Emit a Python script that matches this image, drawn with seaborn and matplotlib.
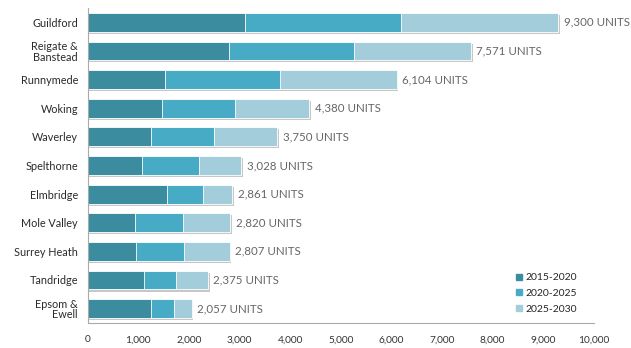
import numpy as np
import pandas as pd
import matplotlib
matplotlib.use("Agg")
import matplotlib.pyplot as plt
import matplotlib.patheffects as pe
from matplotlib.lines import Line2D
import seaborn as sns

districts = ["Guildford", "Reigate &\nBanstead", "Runnymede", "Woking", "Waverley",
             "Spelthorne", "Elmbridge", "Mole Valley", "Surrey Heath", "Tandridge",
             "Epsom &\nEwell"]
p2015_2020 = [3100, 2790, 1520, 1460, 1250, 1065, 1560, 930, 950, 1110, 1260]
p2020_2025 = [3100, 2470, 2280, 1450, 1240, 1125, 720, 950, 960, 630, 440]
p2025_2030 = [3100, 2311, 2304, 1470, 1260, 838, 581, 940, 897, 635, 357]
totals = [9300, 7571, 6104, 4380, 3750, 3028, 2861, 2820, 2807, 2375, 2057]
periods = ["2015-2020", "2020-2025", "2025-2030"]
colors = ["#3a8c9e", "#48abc6", "#a3cddb"]

df = pd.DataFrame({"district": districts, "a": p2015_2020, "b": p2020_2025, "c": p2025_2030})
df["cum1"] = df["a"]
df["cum2"] = df["a"] + df["b"]
df["cum3"] = df["cum2"] + df["c"]

sns.set_style("white")
plt.rcParams["font.family"] = ["Lato", "DejaVu Sans"]

fig = plt.figure(figsize=(6.31, 3.48), dpi=100)
ax = fig.add_axes([0.139, 0.072, 0.802, 0.905])

# longest cumulative first so the shorter segments sit on top
for col, c in zip(["cum3", "cum2", "cum1"], colors[::-1]):
    sns.barplot(data=df, x=col, y="district", orient="h", color=c, width=0.66,
                saturation=1, ax=ax, edgecolor="white", linewidth=0.6)

n = len(districts)
for i, patch in enumerate(ax.patches):
    if i < n:
        patch.set_path_effects([pe.SimplePatchShadow(offset=(1.2, -1.5), shadow_rgbFace="#999999", alpha=0.55),
                                pe.Normal()])

for i, t in enumerate(totals):
    ax.text(t + 110, i, f"{t:,} UNITS", va="center", ha="left", fontsize=8.3, color="#666666")

ax.set_xlim(0, 10000)
ax.set_ylim(n - 0.5, -0.5)
ax.set_xticks(np.arange(0, 10001, 1000))
ax.set_xticklabels([f"{v:,}" for v in range(0, 10001, 1000)], fontsize=7.3, color="#333333")
ax.tick_params(axis="x", direction="in", length=4, color="#aaaaaa", pad=9)
ax.set_yticks(range(n))
ax.set_yticklabels(districts, fontsize=7.8, color="#2a2a2a", linespacing=0.95)
ax.tick_params(axis="y", length=0, pad=7)
ax.set_yticks(np.arange(-0.5, n, 1), minor=True)
ax.tick_params(axis="y", which="minor", length=3, color="#aaaaaa")
ax.set_xlabel("")
ax.set_ylabel("")
for s in ["top", "right"]:
    ax.spines[s].set_visible(False)
for s in ["left", "bottom"]:
    ax.spines[s].set_color("#aaaaaa")
    ax.spines[s].set_linewidth(0.8)

handles = [Line2D([], [], marker="s", linestyle="", color=c, markersize=4.5) for c in colors]
ax.legend(handles, periods, loc="lower right", bbox_to_anchor=(0.985, 0.0), frameon=False,
          fontsize=7.5, handletextpad=0.1, labelspacing=0.6, handlelength=1.0)

fig.savefig("out.png", dpi=100)
